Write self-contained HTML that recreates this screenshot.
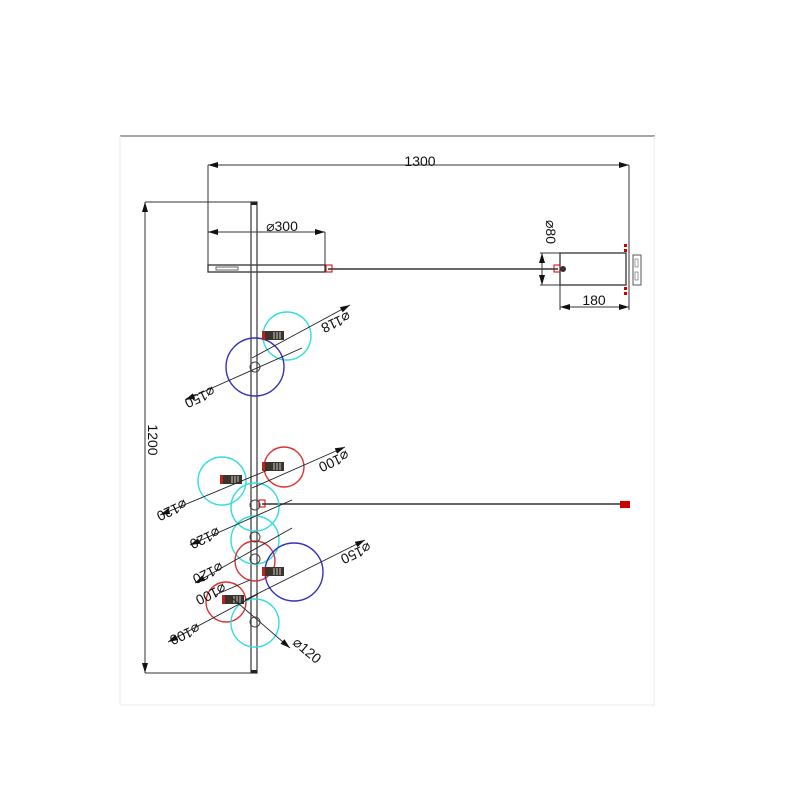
<!DOCTYPE html>
<html><head><meta charset="utf-8"><style>html,body{margin:0;padding:0;background:#fff}svg{display:block}text{font-family:"Liberation Sans",sans-serif;font-size:14px;fill:#111}</style></head>
<body>
<svg width="800" height="800" viewBox="0 0 800 800" xmlns="http://www.w3.org/2000/svg">
<defs>
<marker id="a" viewBox="0 0 10 6" refX="10" refY="3" markerWidth="10" markerHeight="6" orient="auto-start-reverse" markerUnits="userSpaceOnUse"><path d="M0,0L10,3L0,6z" fill="#111"/></marker>
<g id="sock"><rect x="0" y="0" width="22" height="9" fill="#3a342c"/><rect x="0" y="0" width="3" height="9" fill="#b22"/><path d="M12,1v7M15,1v7M18,1v7" stroke="#ccc" stroke-width="1"/></g>
</defs>
<line x1="120" y1="136" x2="655" y2="136" stroke="#888" stroke-width="1.5"/>
<line x1="120" y1="136" x2="120" y2="705" stroke="#eee"/>
<line x1="654" y1="136" x2="654" y2="705" stroke="#eee"/>
<line x1="120" y1="705" x2="655" y2="705" stroke="#eee"/>
<g stroke="#333" stroke-width="1" fill="none">
<line x1="208" y1="165" x2="629" y2="165" marker-start="url(#a)" marker-end="url(#a)"/>
<line x1="208" y1="165" x2="208" y2="272"/>
<line x1="629" y1="165" x2="629" y2="310"/>
<line x1="208" y1="232" x2="325" y2="232" marker-start="url(#a)" marker-end="url(#a)"/>
<line x1="325" y1="232" x2="325" y2="266"/>
<line x1="145" y1="202" x2="145" y2="673" marker-start="url(#a)" marker-end="url(#a)"/>
<line x1="145" y1="202" x2="254" y2="202"/>
<line x1="145" y1="673" x2="254" y2="673"/>
<rect x="208" y="265" width="117" height="7" stroke-width="1.3"/>
<rect x="216" y="267" width="22" height="3" stroke="#666"/>
<line x1="328" y1="269" x2="558" y2="269" stroke-width="1.5"/>
<rect x="560" y="253" width="66" height="32" stroke-width="1.3"/>
<line x1="540" y1="253" x2="560" y2="253"/>
<line x1="540" y1="285" x2="560" y2="285"/>
<line x1="542" y1="253" x2="542" y2="285" marker-start="url(#a)" marker-end="url(#a)"/>
<line x1="560" y1="285" x2="560" y2="310"/>
<line x1="560" y1="307" x2="629" y2="307" marker-start="url(#a)" marker-end="url(#a)"/>
<rect x="633" y="255" width="8" height="30" stroke="#555"/>
<rect x="635" y="259" width="3" height="8" stroke="#777" stroke-width="0.7"/>
<rect x="635" y="272" width="3" height="8" stroke="#777" stroke-width="0.7"/>
<rect x="251" y="202" width="6" height="471" stroke="#444" stroke-width="1.3"/>
<line x1="262" y1="504" x2="620" y2="504" stroke-width="1.5"/>
</g>
<rect x="251" y="202" width="6" height="3" fill="#222"/>
<rect x="251" y="670" width="6" height="3" fill="#222"/>
<rect x="326" y="265" width="6" height="7" fill="none" stroke="#c00"/>
<rect x="554" y="265" width="6" height="7" fill="none" stroke="#c00"/>
<circle cx="563" cy="269" r="3" fill="#333"/>
<rect x="620" y="501" width="10" height="7" fill="#c00"/>
<rect x="259" y="500" width="6" height="7" fill="none" stroke="#c00"/>
<g fill="#c00"><rect x="624" y="244" width="3" height="3"/><rect x="624" y="249" width="3" height="3"/><rect x="624" y="287" width="3" height="3"/><rect x="624" y="292" width="3" height="3"/></g>
<g fill="none" stroke-width="1.4">
<circle cx="287" cy="336" r="24" stroke="#3dd"/>
<circle cx="255" cy="367" r="29" stroke="#33b"/>
<circle cx="284" cy="467" r="20" stroke="#d33"/>
<circle cx="222" cy="481" r="24" stroke="#3dd"/>
<circle cx="255" cy="507" r="24" stroke="#3dd"/>
<circle cx="255" cy="540" r="24" stroke="#3dd"/>
<circle cx="255" cy="561" r="20" stroke="#d33"/>
<circle cx="294" cy="572" r="29" stroke="#33b"/>
<circle cx="226" cy="602" r="20" stroke="#d33"/>
<circle cx="255" cy="623" r="24" stroke="#3dd"/>
</g>
<g fill="none" stroke="#444"><circle cx="255" cy="367" r="5"/><circle cx="255" cy="505" r="5"/><circle cx="255" cy="537" r="5"/><circle cx="255" cy="559" r="5"/><circle cx="255" cy="622" r="5"/></g>
<use href="#sock" x="262" y="331"/>
<use href="#sock" x="262" y="462"/>
<use href="#sock" x="220" y="475"/>
<use href="#sock" x="262" y="567"/>
<use href="#sock" x="222" y="595"/>
<g stroke="#222" stroke-width="0.9" fill="none">
<line x1="252" y1="358" x2="350" y2="305" marker-end="url(#a)"/>
<line x1="185" y1="400" x2="302" y2="348" marker-start="url(#a)"/>
<line x1="252" y1="488" x2="345" y2="447" marker-end="url(#a)"/>
<line x1="160" y1="515" x2="268" y2="470" marker-start="url(#a)"/>
<line x1="190" y1="545" x2="292" y2="500" marker-start="url(#a)"/>
<line x1="195" y1="583" x2="292" y2="528" marker-start="url(#a)"/>
<line x1="215" y1="595" x2="250" y2="580"/>
<line x1="245" y1="600" x2="365" y2="540" marker-end="url(#a)"/>
<line x1="168" y1="642" x2="258" y2="594" marker-start="url(#a)"/>
<line x1="232" y1="598" x2="290" y2="648" marker-end="url(#a)"/>
</g>
<text x="420" y="166" text-anchor="middle">1300</text>
<text x="282" y="231" text-anchor="middle">⌀300</text>
<text x="594" y="305" text-anchor="middle">180</text>
<text transform="translate(546,232) rotate(90)" text-anchor="middle">⌀80</text>
<text transform="translate(148,440) rotate(90)" text-anchor="middle">1200</text>
<g text-anchor="middle">
<text transform="translate(334,318) rotate(155)">⌀118</text>
<text transform="translate(198,393) rotate(155)">⌀150</text>
<text transform="translate(332,457) rotate(155)">⌀100</text>
<text transform="translate(170,506) rotate(155)">⌀120</text>
<text transform="translate(203,534) rotate(155)">⌀120</text>
<text transform="translate(206,569) rotate(155)">⌀120</text>
<text transform="translate(209,590) rotate(155)">⌀100</text>
<text transform="translate(354,549) rotate(155)">⌀150</text>
<text transform="translate(183,630) rotate(155)">⌀100</text>
<text transform="translate(304,654) rotate(40)">⌀120</text>
</g>
</svg>
</body></html>
